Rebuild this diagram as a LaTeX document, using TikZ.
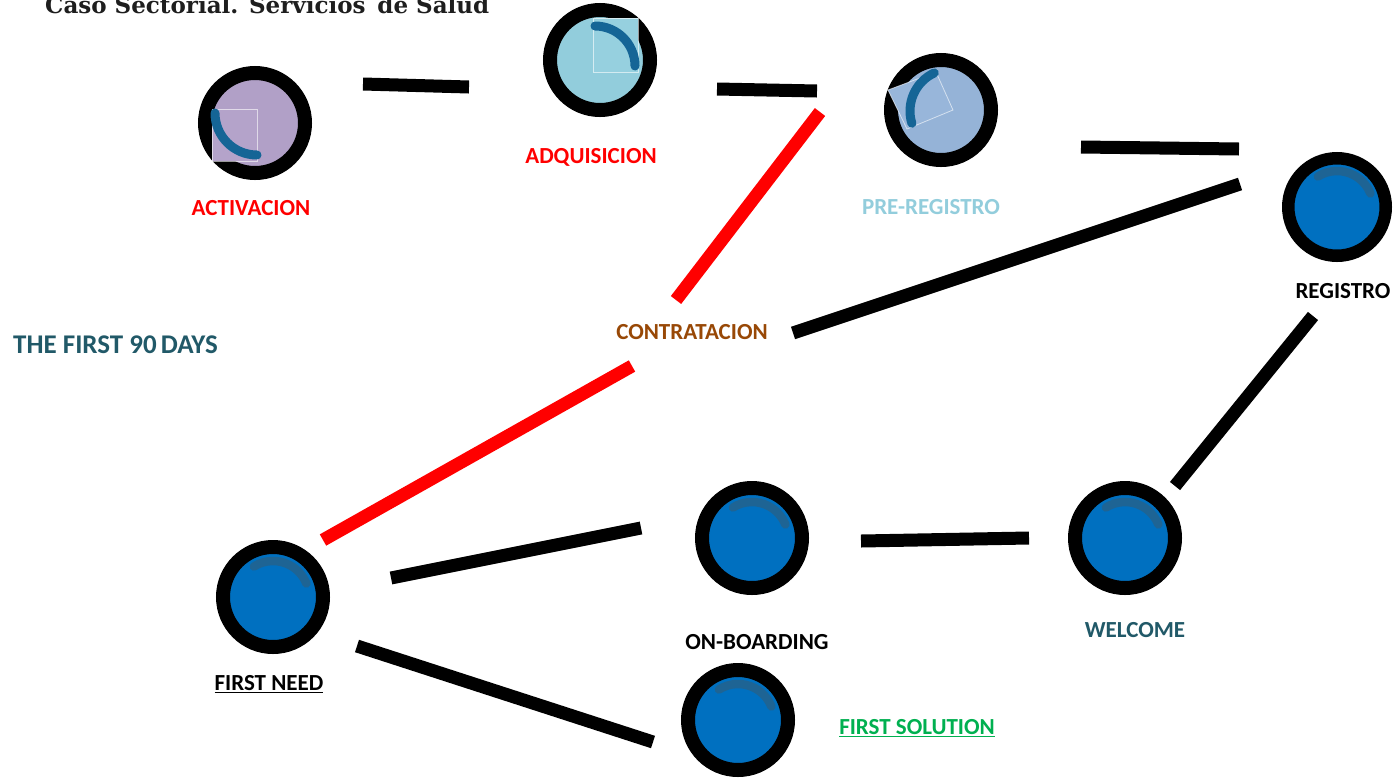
\documentclass[tikz,border=0pt]{standalone}
\usepackage{fontspec}
\setsansfont{Carlito}
\newfontfamily\titlefont{DejaVu Serif}
\usetikzlibrary{calc}
\definecolor{cpurple}{RGB}{177,160,199}
\definecolor{cpurplesq}{RGB}{180,163,202}
\definecolor{cadq}{RGB}{146,205,220}
\definecolor{cadqsq}{RGB}{150,208,223}
\definecolor{cpre}{RGB}{149,179,215}
\definecolor{cpresq}{RGB}{152,182,218}
\definecolor{cblue}{RGB}{0,112,192}
\definecolor{carc}{RGB}{21,101,150}
\definecolor{carcb}{RGB}{30,100,148}
\definecolor{cteal}{RGB}{33,89,104}
\definecolor{cbrown}{RGB}{152,72,6}
\definecolor{cgreen}{RGB}{0,176,80}
\definecolor{clight}{RGB}{146,205,220}
\definecolor{ctitle}{RGB}{30,30,30}
\tikzset{
  ring/.style={circle, draw=black, line width=14pt, minimum size=100pt, inner sep=0pt},
  ringsm/.style={circle, draw=black, line width=12.5pt, minimum size=97.5pt, inner sep=0pt},
  conn/.style={line width=13pt, black},
  redconn/.style={line width=13pt, red},
  lbl/.style={font=\sffamily\bfseries\fontsize{23}{27}\selectfont, inner sep=0pt},
  sq/.style={draw=white, draw opacity=0.6, line width=0.8pt},
  deco/.style={carc, line width=9pt, line cap=round},
  decob/.style={carcb, line width=8.5pt, line cap=round},
}
\begin{document}
\begin{tikzpicture}[x=1pt, y=-1pt]
\useasboundingbox (0,0) rectangle (1395,780);
\fill[white] (0,0) rectangle (1395,780);

% title
\node[anchor=base west, inner sep=0pt, text=ctitle, font=\titlefont\bfseries\fontsize{23}{27}\selectfont] (title) at (45,13.5) {Caso Sectorial. Servicios\, de Salud};

% circles
\node[ring, fill=cpurple] (act) at (255,123) {};
\node[ring, fill=cadq] (adq) at (600,60) {};
\node[ring, fill=cpre] (pre) at (941,110) {};
\node[ringsm, fill=cblue] (reg) at (1337,207) {};
\node[ring, fill=cblue] (wel) at (1125,538) {};
\node[ring, fill=cblue] (onb) at (752,538) {};
\node[ring, fill=cblue] (fneed) at (273,597) {};
\node[ring, fill=cblue] (fsol) at (738,720) {};

% squares + arcs on the top nodes
\filldraw[sq, fill=cpurplesq] (212,109) rectangle (257,161);
\draw[deco] (215,113) arc[start angle=180, end angle=90, radius=42];
\filldraw[sq, fill=cadqsq] (593,18) -- (638,18) -- (638,72) -- (593,72) -- cycle;
\draw[deco] (595,26) arc[start angle=270, end angle=360, radius=40];
\filldraw[sq, fill=cpresq] (888,90) -- (936,72) -- (953,110) -- (907,129) -- cycle;
\draw[deco] ($(952,111)+(245:42)$) arc[start angle=245, end angle=163, radius=42];

% arcs on blue nodes
\foreach \n in {reg,wel,onb,fneed,fsol}{
  \draw[decob] ($(\n)+(238:36)$) arc[start angle=238, end angle=338, radius=36];
}

% connector end points
\coordinate (c1a) at (363,84);   \coordinate (c1b) at (469,87);
\coordinate (c2a) at (717,89);   \coordinate (c2b) at (817,91);
\coordinate (c3a) at (1081,147); \coordinate (c3b) at (1239,149);
\coordinate (c4a) at (1240,184); \coordinate (c4b) at (793,333);
\coordinate (c5a) at (820,112);  \coordinate (c5b) at (676,300);
\coordinate (c6a) at (632,366);  \coordinate (c6b) at (323,540);
\coordinate (c7a) at (1313,316); \coordinate (c7b) at (1175,486);
\coordinate (c8a) at (861,541);  \coordinate (c8b) at (1029,538);
\coordinate (c9a) at (641,528);  \coordinate (c9b) at (391,578);
\coordinate (c10a) at (357,646); \coordinate (c10b) at (653,742);

\draw[conn] (c1a) -- (c1b);
\draw[conn] (c2a) -- (c2b);
\draw[conn] (c3a) -- (c3b);
\draw[conn] (c4a) -- (c4b);
\draw[redconn] (c5a) -- (c5b);
\draw[redconn] (c6a) -- (c6b);
\draw[conn] (c7a) -- (c7b);
\draw[conn] (c8a) -- (c8b);
\draw[conn] (c9a) -- (c9b);
\draw[conn] (c10a) -- (c10b);

% labels
\node[lbl, text=red] (lact) at (251,208) {ACTIVACION};
\node[lbl, text=red] (ladq) at (591,157) {ADQUISICION};
\node[lbl, text=clight] (lpre) at (931,207) {PRE-REGISTRO};
\node[lbl, text=black] (lreg) at (1343,291) {REGISTRO};
\node[lbl, text=cbrown] (lcon) at (692,332) {CONTRATACION};
\node[lbl, text=cteal, anchor=west, font=\sffamily\bfseries\fontsize{27}{31}\selectfont] (l90) at (13,345) {THE FIRST 90\hspace{-2pt} DAYS};
\node[lbl, text=black] (lonb) at (757,642) {ON-BOARDING};
\node[lbl, text=cteal] (lwel) at (1135,630) {WELCOME};
\node[lbl, text=black] (lfn) at (269,684) {\underline{FIRST NEED}};
\node[lbl, text=cgreen] (lfs) at (917,728) {\underline{FIRST SOLUTION}};
\end{tikzpicture}
\end{document}
